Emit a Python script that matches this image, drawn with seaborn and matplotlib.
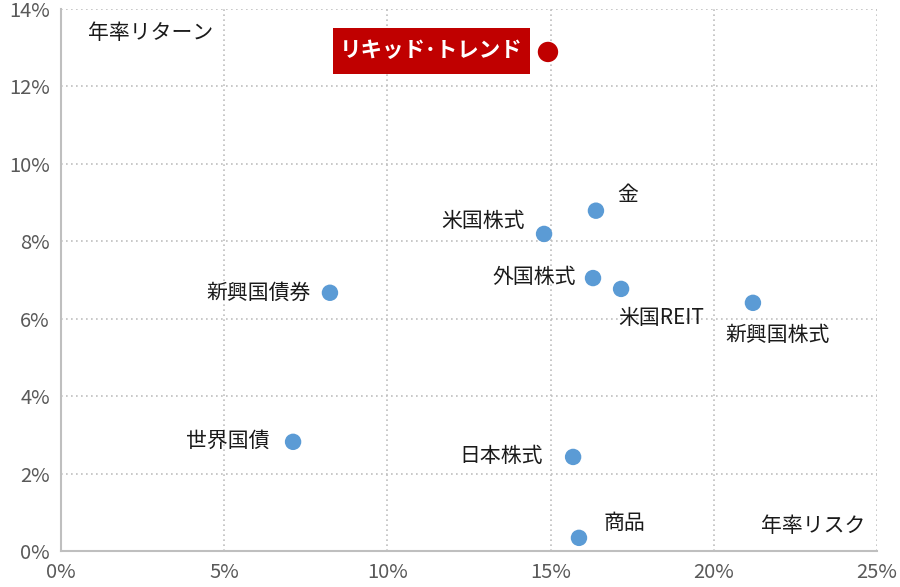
import matplotlib
matplotlib.use('Agg')
from matplotlib import pyplot as plt
from matplotlib.patches import Rectangle
from matplotlib.ticker import PercentFormatter
import pandas as pd
import seaborn as sns

sns.set_style('white')
plt.rcParams['font.family'] = ['Noto Sans CJK JP', 'DejaVu Sans']

# %% Data (risk, return in %)
names = ['リキッド･トレンド', '金', '米国株式', '外国株式', '米国REIT', '新興国株式',
         '新興国債券', '世界国債', '日本株式', '商品']
risk = [14.92, 16.39, 14.80, 16.30, 17.16, 21.20, 8.24, 7.11, 15.69, 15.87]
ret = [12.89, 8.79, 8.19, 7.05, 6.77, 6.41, 6.67, 2.82, 2.43, 0.34]
group = ['fund'] + ['asset'] * 9

# label offsets in points and alignment
offsets = [(-84, 1), (23, 11), (-14, 9), (-12, 1), (29, -21), (18, -23),
           (-14, 0), (-17, 1), (-22, 1), (33, 11)]
aligns = ['center', 'center', 'right', 'right', 'center', 'center',
          'right', 'right', 'right', 'center']

df = pd.DataFrame({'name': names, 'risk': risk, 'ret': ret, 'group': group})

# %% Plot
fig = plt.figure(figsize=(9, 5.87), dpi=100)
ax = fig.add_axes([0.0678, 0.0613, 0.9066, 0.9234])

sns.scatterplot(data=df[df.group == 'asset'], x='risk', y='ret', color='#5B9BD5',
                s=140, edgecolor='none', ax=ax, zorder=3, legend=False)
sns.scatterplot(data=df[df.group == 'fund'], x='risk', y='ret', color='#C00000',
                s=215, edgecolor='none', ax=ax, zorder=3, legend=False)

fund_text = None
for i, row in df.iterrows():
    if row.group == 'fund':
        fund_text = ax.annotate(row['name'], (row.risk, row.ret), xytext=offsets[i],
                                textcoords='offset points', ha=aligns[i], va='center',
                                fontsize=15.5, color='white', fontweight='bold', zorder=5)
    else:
        ax.annotate(row['name'], (row.risk, row.ret), xytext=offsets[i],
                    textcoords='offset points', ha=aligns[i], va='center',
                    fontsize=15, color='#1a1a1a')

ax.text(0.033, 0.955, '年率リターン', transform=ax.transAxes, fontsize=15,
        color='#1a1a1a', va='center', ha='left')
ax.text(0.986, 0.046, '年率リスク', transform=ax.transAxes, fontsize=15,
        color='#1a1a1a', va='center', ha='right')

ax.set_xlim(0, 25)
ax.set_ylim(0, 14)
ax.set_xticks(range(0, 26, 5))
ax.set_yticks(range(0, 15, 2))
ax.xaxis.set_major_formatter(PercentFormatter(decimals=0))
ax.yaxis.set_major_formatter(PercentFormatter(decimals=0))
ax.tick_params(axis='both', labelsize=14.5, colors='#595959', length=0, pad=8)
ax.set_xlabel('')
ax.set_ylabel('')

ax.grid(True, color='#bfbfbf', linestyle=(0, (1, 2)), linewidth=1.2)
for side in ['top', 'right']:
    ax.spines[side].set_visible(False)
for side in ['left', 'bottom']:
    ax.spines[side].set_color('#bfbfbf')
    ax.spines[side].set_linewidth(1.5)

# red box behind the fund label
fig.canvas.draw()
bb = fund_text.get_window_extent(fig.canvas.get_renderer())
bb = bb.expanded((bb.width + 14) / bb.width, 46 / bb.height)
bb = bb.transformed(ax.transAxes.inverted())
ax.add_patch(Rectangle((bb.x0, bb.y0), bb.width, bb.height, transform=ax.transAxes,
                       facecolor='#C00000', edgecolor='none', zorder=4))

fig.savefig('out.png', dpi=100)
